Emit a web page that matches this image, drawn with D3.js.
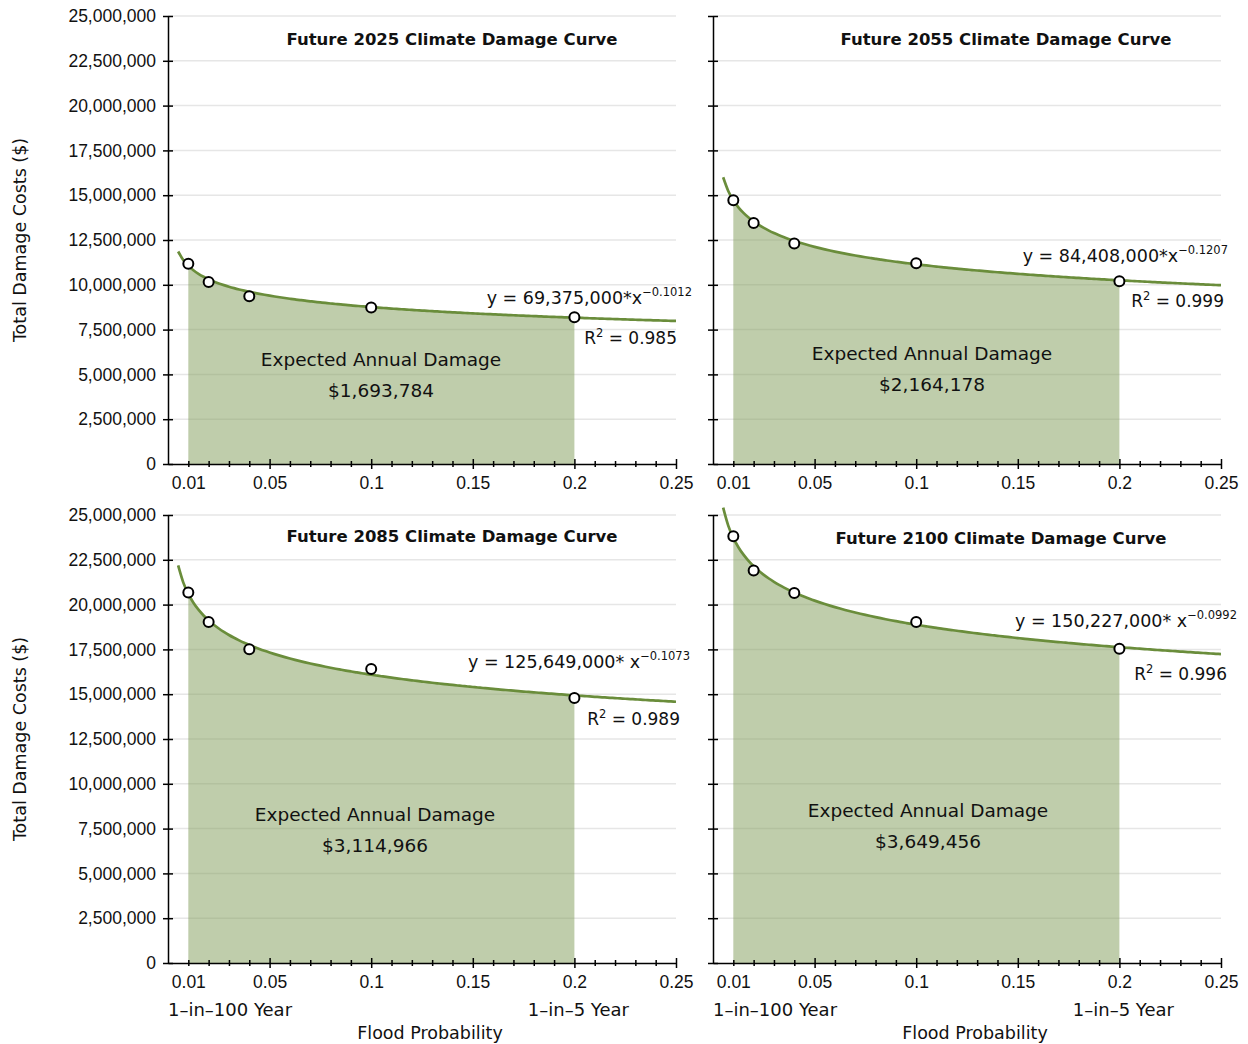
<!DOCTYPE html>
<html>
<head>
<meta charset="utf-8">
<script src="https://cdn.jsdelivr.net/npm/d3@7"></script>
<style>
  body { margin: 0; background: #fff; }
  svg { font-family: "DejaVu Sans", sans-serif; fill: #111; }
  .tick text { font-size: 17.5px; fill: #111; }
</style>
</head>
<body>
<svg width="1248" height="1044"></svg>
<script>
// flood probabilities of the modelled events (1-in-100 ... 1-in-5 year)
const probabilities = [0.01, 0.02, 0.04, 0.1, 0.2];
const scenarioYears = [2025, 2055, 2085, 2100];

// total damage per event ($)
const damage2025 = [11180000, 10160000, 9360000, 8730000, 8190000];
const damage2055 = [14720000, 13450000, 12300000, 11200000, 10200000];
const damage2085 = [20670000, 19030000, 17510000, 16400000, 14790000];
const damage2100 = [23820000, 21900000, 20650000, 19030000, 17530000];

// power fit y = a * x^b as printed on each panel
const fitCoef = [69375000, 84408000, 125649000, 150227000];
const fitExp = [-0.1012, -0.1207, -0.1073, -0.0992];
const fitSep = ["*", "*", "* ", "* "];
const rSquared = [0.985, 0.999, 0.989, 0.996];
const expectedAnnualDamage = [1693784, 2164178, 3114966, 3649456];

const yTicks = d3.range(0, 25000001, 2500000);
const xMinorTicks = d3.range(1, 26).map((d) => d / 100);
const xTickLabels = [0.01, 0.05, 0.1, 0.15, 0.2, 0.25];

const series = [damage2025, damage2055, damage2085, damage2100];

const svg = d3.select("svg");
const innerWidth = 508;
const innerHeight = 448;
const lineColor = "#6a8d3b";

// panel placement and annotation offsets (px, relative to plot origin)
const panels = [
  { left: 168, top: 16, yLabels: true, bottom: false,
    title: [284, 29], ead: [213, 350], eq: [524, 288], r2: [509, 328] },
  { left: 713, top: 16, yLabels: false, bottom: false,
    title: [293, 29], ead: [219, 344], eq: [515, 246], r2: [511, 291] },
  { left: 168, top: 515, yLabels: true, bottom: true,
    title: [284, 27], ead: [207, 306], eq: [522, 153], r2: [512, 210] },
  { left: 713, top: 515, yLabels: false, bottom: true,
    title: [288, 29], ead: [215, 302], eq: [524, 112], r2: [514, 165] },
];

const xScale = d3.scaleLinear().domain([0, 0.25]).range([0, innerWidth]);
const yScale = d3.scaleLinear().domain([0, 25000000]).range([innerHeight, 0]);

const isLabelled = (d) => xTickLabels.some((v) => Math.abs(v - d) < 1e-9);

panels.forEach((p, i) => {
  const g = svg.append("g").attr("transform", `translate(${p.left},${p.top})`);
  const a = fitCoef[i] / 10; // printed coefficient is 10x the plotted scale
  const b = fitExp[i];
  const fit = (x) => a * Math.pow(x, b);

  // gridlines
  g.append("g")
    .selectAll("line")
    .data(yTicks.slice(1))
    .enter()
    .append("line")
    .attr("x1", 0)
    .attr("x2", innerWidth)
    .attr("y1", (d) => yScale(d))
    .attr("y2", (d) => yScale(d))
    .attr("stroke", "#e6e6e6")
    .attr("stroke-width", 1.5);

  // expected annual damage area under the fit, 1-in-100 to 1-in-5
  const areaX = d3.range(0.01, 0.2001, 0.0025);
  g.append("path")
    .datum(areaX)
    .attr("fill", "#7f9c58")
    .attr("fill-opacity", 0.5)
    .attr("d", d3.area().x((d) => xScale(d)).y0(yScale(0)).y1((d) => yScale(fit(d))));

  // fitted curve
  const curveX = d3.range(0.005, 0.2501, 0.0025);
  g.append("path")
    .datum(curveX)
    .attr("fill", "none")
    .attr("stroke", lineColor)
    .attr("stroke-width", 2.7)
    .attr("d", d3.line().x((d) => xScale(d)).y((d) => yScale(fit(d))).curve(d3.curveMonotoneX));

  // y axis
  const yAxis = d3.axisLeft(yScale)
    .tickValues(yTicks)
    .tickSizeOuter(0)
    .tickSizeInner(5)
    .tickPadding(7)
    .tickFormat(d3.format(","));
  const yg = g.append("g").call(yAxis);
  yg.selectAll(".tick line").attr("x1", 5).attr("stroke-width", 1.5);
  yg.select(".domain").attr("stroke-width", 1.5);
  if (!p.yLabels) yg.selectAll(".tick text").remove();

  // x axis
  const xAxis = d3.axisBottom(xScale)
    .tickValues(xMinorTicks)
    .tickSizeOuter(0)
    .tickSizeInner(5)
    .tickPadding(8)
    .tickFormat((d) => d3.format("")(+d.toFixed(2)));
  const xg = g.append("g").attr("transform", `translate(0,${innerHeight})`).call(xAxis);
  xg.selectAll(".tick line")
    .attr("y1", (d) => (Math.round(d * 100) % 5 === 0 ? -5 : -3))
    .attr("y2", (d) => (Math.round(d * 100) % 5 === 0 ? 5 : 3))
    .attr("stroke-width", 1.5);
  xg.selectAll(".tick text").filter((d) => !isLabelled(d)).remove();
  xg.select(".domain").attr("stroke-width", 1.5);

  // points
  g.selectAll("circle")
    .data(probabilities.map((x, j) => ({ x, y: series[i][j] })))
    .enter()
    .append("circle")
    .attr("cx", (d) => xScale(d.x))
    .attr("cy", (d) => yScale(d.y))
    .attr("r", 5)
    .attr("fill", "#fff")
    .attr("stroke", "#000")
    .attr("stroke-width", 2);

  // title
  g.append("text")
    .attr("x", p.title[0])
    .attr("y", p.title[1])
    .attr("text-anchor", "middle")
    .attr("font-size", 16.5)
    .attr("font-weight", "bold")
    .text(`Future ${scenarioYears[i]} Climate Damage Curve`);

  // expected annual damage label
  g.append("text")
    .attr("x", p.ead[0])
    .attr("y", p.ead[1])
    .attr("text-anchor", "middle")
    .attr("font-size", 18.5)
    .text("Expected Annual Damage");
  g.append("text")
    .attr("x", p.ead[0])
    .attr("y", p.ead[1] + 31)
    .attr("text-anchor", "middle")
    .attr("font-size", 18.5)
    .text("$" + d3.format(",")(expectedAnnualDamage[i]));

  // fit equation
  const eq = g.append("text")
    .attr("x", p.eq[0])
    .attr("y", p.eq[1])
    .attr("text-anchor", "end")
    .attr("font-size", 17.5);
  eq.append("tspan").text(`y = ${d3.format(",")(fitCoef[i])}${fitSep[i]}x`);
  eq.append("tspan").attr("dy", -8).attr("font-size", 11.5).text(d3.format("")(b));

  const r2 = g.append("text")
    .attr("x", p.r2[0])
    .attr("y", p.r2[1])
    .attr("text-anchor", "end")
    .attr("font-size", 17);
  r2.append("tspan").text("R");
  r2.append("tspan").attr("dy", -7).attr("font-size", 11.5).text("2");
  r2.append("tspan").attr("dy", 7).text(` = ${d3.format(".3f")(rSquared[i])}`);

  // y axis title on left panels
  if (p.yLabels) {
    g.append("text")
      .attr("transform", `translate(${20 - p.left + 6},${innerHeight / 2}) rotate(-90)`)
      .attr("text-anchor", "middle")
      .attr("font-size", 17.5)
      .text("Total Damage Costs ($)");
  }

  // return period hints and x axis title on bottom panels
  if (p.bottom) {
    g.append("text")
      .attr("x", 0)
      .attr("y", innerHeight + 53)
      .attr("font-size", 18)
      .text("1\u2013in\u2013100 Year");
    g.append("text")
      .attr("x", xScale(0.2) + 4)
      .attr("y", innerHeight + 53)
      .attr("text-anchor", "middle")
      .attr("font-size", 18)
      .text("1\u2013in\u20135 Year");
    g.append("text")
      .attr("x", innerWidth / 2 + 8)
      .attr("y", innerHeight + 76)
      .attr("text-anchor", "middle")
      .attr("font-size", 17.5)
      .text("Flood Probability");
  }
});
</script>
</body>
</html>
